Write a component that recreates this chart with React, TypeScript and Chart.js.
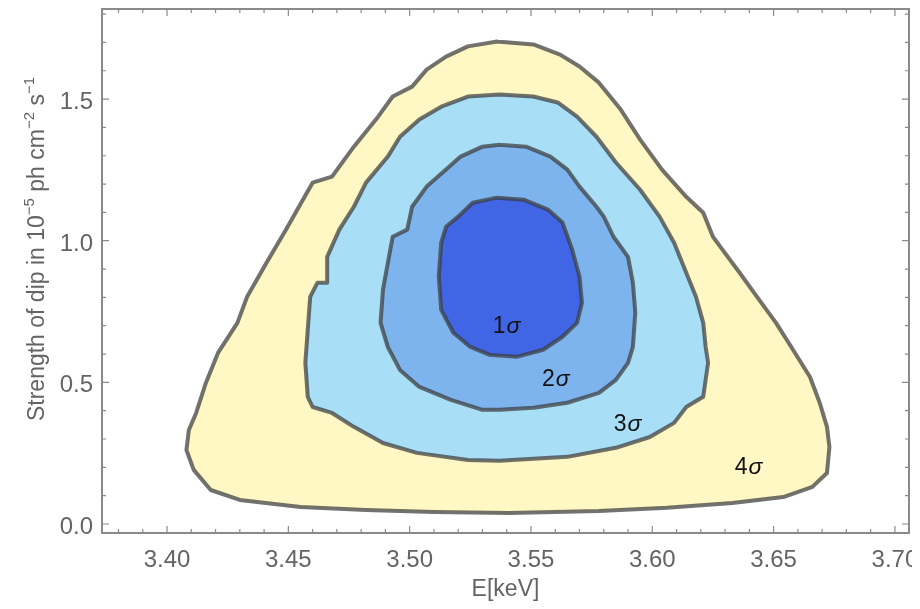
import React, { useEffect, useRef } from "react";
import { Chart, registerables } from "chart.js";
Chart.register(...registerables);

// Axis ticks
const xTicks = [3.4, 3.45, 3.5, 3.55, 3.6, 3.65, 3.7];
const yTicks = [0.0, 0.5, 1.0, 1.5];
const xTitle = "E[keV]";

// 4 sigma contour
const sigma4X = [3.536,3.551,3.562,3.570,3.578,3.587,3.595,3.604,3.614,3.621,3.625,3.628,3.636,3.644,3.651,3.658,3.665,3.669,3.672,3.673,3.672,3.666,3.654,3.633,3.606,3.578,3.541,3.510,3.482,3.455,3.430,3.418,3.411,3.408,3.409,3.412,3.416,3.421,3.429,3.433,3.441,3.449,3.456,3.460,3.468,3.477,3.487,3.493,3.501,3.507,3.515,3.524];
const sigma4Y = [1.703,1.693,1.657,1.615,1.558,1.463,1.357,1.251,1.155,1.099,1.014,0.979,0.887,0.792,0.710,0.615,0.519,0.428,0.343,0.272,0.180,0.131,0.095,0.074,0.057,0.046,0.039,0.042,0.049,0.060,0.085,0.120,0.191,0.261,0.332,0.392,0.498,0.604,0.710,0.802,0.922,1.039,1.145,1.205,1.226,1.332,1.438,1.509,1.544,1.604,1.650,1.686];

// 3 sigma contour
const sigma3X = [3.537,3.551,3.561,3.569,3.577,3.585,3.595,3.603,3.609,3.614,3.618,3.621,3.622,3.623,3.621,3.614,3.609,3.599,3.585,3.565,3.537,3.524,3.503,3.489,3.477,3.468,3.460,3.458,3.457,3.458,3.459,3.462,3.466,3.466,3.471,3.477,3.482,3.491,3.496,3.504,3.513,3.524];
const sigma3Y = [1.516,1.509,1.488,1.438,1.367,1.276,1.180,1.085,0.993,0.887,0.802,0.710,0.625,0.569,0.449,0.413,0.357,0.307,0.269,0.237,0.223,0.226,0.251,0.286,0.343,0.392,0.413,0.449,0.569,0.686,0.802,0.852,0.852,0.943,1.039,1.120,1.205,1.297,1.367,1.428,1.473,1.509];

// 2 sigma contour
const sigma2X = [3.537,3.548,3.558,3.565,3.570,3.577,3.580,3.584,3.590,3.592,3.593,3.592,3.590,3.585,3.578,3.565,3.551,3.537,3.530,3.517,3.504,3.496,3.491,3.488,3.489,3.491,3.493,3.499,3.501,3.507,3.515,3.521,3.530];
const sigma2Y = [1.339,1.332,1.297,1.251,1.191,1.120,1.085,1.014,0.943,0.852,0.746,0.625,0.569,0.509,0.463,0.428,0.410,0.403,0.403,0.438,0.484,0.544,0.625,0.710,0.827,0.922,1.014,1.039,1.120,1.191,1.251,1.297,1.332];

// 1 sigma contour
const sigma1X = [3.536,3.547,3.557,3.563,3.567,3.570,3.571,3.569,3.563,3.555,3.544,3.533,3.525,3.518,3.513,3.512,3.513,3.515,3.520,3.526];
const sigma1Y = [1.152,1.145,1.110,1.064,0.968,0.873,0.781,0.710,0.661,0.615,0.590,0.597,0.625,0.675,0.756,0.873,0.993,1.049,1.085,1.134];

// Contour labels
const contourLabels = ["1σ", "2σ", "3σ", "4σ"];
const labelX = [3.5397, 3.560, 3.5896, 3.6395];
const labelY = [0.696, 0.509, 0.350, 0.198];

const fillColors = ["#4066e6", "#7db4ee", "#a8def6", "#fff7c4"];
const tickGray = "#646464";
const fontFam = '"Liberation Sans", Arial, sans-serif';

function closed(xs: number[], ys: number[]) {
  const pts = xs.map((x, i) => ({ x, y: ys[i] }));
  pts.push({ x: xs[0], y: ys[0] });
  return pts;
}

const decorPlugin = {
  id: "decor",
  afterDraw(chart: any) {
    const { ctx, chartArea: a, scales } = chart;
    const xs = scales.x;
    const ys = scales.y;
    ctx.save();

    // contour labels
    ctx.fillStyle = "#111";
    ctx.textBaseline = "middle";
    ctx.textAlign = "left";
    contourLabels.forEach((lab, i) => {
      const num = lab.slice(0, -1);
      const sig = lab.slice(-1);
      const px = xs.getPixelForValue(labelX[i]);
      const py = ys.getPixelForValue(labelY[i]);
      ctx.font = `23px ${fontFam}`;
      const w1 = ctx.measureText(num).width;
      ctx.font = `italic 23px ${fontFam}`;
      const w2 = ctx.measureText(sig).width;
      const sx = px - (w1 + w2) / 2;
      ctx.font = `23px ${fontFam}`;
      ctx.fillText(num, sx, py);
      ctx.font = `italic 23px ${fontFam}`;
      ctx.fillText(sig, sx + w1 + 1, py);
    });

    // frame
    ctx.strokeStyle = "#8a8a8a";
    ctx.lineWidth = 2;
    ctx.strokeRect(a.left, a.top, a.right - a.left, a.bottom - a.top);

    // inner ticks
    ctx.lineWidth = 1.2;
    ctx.beginPath();
    for (let k = Math.ceil(xs.min / 0.01); k <= Math.floor(xs.max / 0.01); k++) {
      const px = xs.getPixelForValue(k * 0.01);
      const len = k % 5 === 0 ? 7 : 4;
      ctx.moveTo(px, a.bottom);
      ctx.lineTo(px, a.bottom - len);
      ctx.moveTo(px, a.top);
      ctx.lineTo(px, a.top + len);
    }
    for (let k = Math.ceil(ys.min / 0.1); k <= Math.floor(ys.max / 0.1); k++) {
      const py = ys.getPixelForValue(k * 0.1);
      const len = k % 5 === 0 ? 7 : 4;
      ctx.moveTo(a.left, py);
      ctx.lineTo(a.left + len, py);
      ctx.moveTo(a.right, py);
      ctx.lineTo(a.right - len, py);
    }
    ctx.stroke();

    // tick labels
    ctx.fillStyle = tickGray;
    ctx.font = `24px ${fontFam}`;
    ctx.textBaseline = "alphabetic";
    ctx.textAlign = "center";
    xTicks.forEach((v) => {
      ctx.fillText(v.toFixed(2), xs.getPixelForValue(v), a.bottom + 34);
    });
    ctx.textAlign = "right";
    yTicks.forEach((v) => {
      ctx.fillText(v.toFixed(1), a.left - 9, ys.getPixelForValue(v) + 10);
    });

    // x title
    ctx.font = `23px ${fontFam}`;
    ctx.textAlign = "center";
    ctx.textBaseline = "middle";
    ctx.fillText(xTitle, (a.left + a.right) / 2, a.bottom + 57);

    // y axis title with superscripts
    const parts: [string, boolean][] = [
      ["Strength of dip in 10", false],
      ["−5", true],
      [" ph cm", false],
      ["−2", true],
      [" s", false],
      ["−1", true],
    ];
    const mainFont = `23px ${fontFam}`;
    const supFont = `15px ${fontFam}`;
    let total = 0;
    parts.forEach(([t, sup]) => {
      ctx.font = sup ? supFont : mainFont;
      total += ctx.measureText(t).width;
    });
    const cx = a.left - 58;
    const cy = (a.top + a.bottom) / 2 - 22;
    ctx.translate(cx, cy);
    ctx.rotate(-Math.PI / 2);
    ctx.textAlign = "left";
    ctx.textBaseline = "alphabetic";
    let x0 = -total / 2;
    parts.forEach(([t, sup]) => {
      ctx.font = sup ? supFont : mainFont;
      ctx.fillText(t, x0, sup ? -10 : 0);
      x0 += ctx.measureText(t).width;
    });
    ctx.restore();
  },
};

export default function App() {
  const ref = useRef<HTMLCanvasElement | null>(null);
  useEffect(() => {
    if (!ref.current) return;
    const sets = [
      { label: "1σ", xs: sigma1X, ys: sigma1Y },
      { label: "2σ", xs: sigma2X, ys: sigma2Y },
      { label: "3σ", xs: sigma3X, ys: sigma3Y },
      { label: "4σ", xs: sigma4X, ys: sigma4Y },
    ];
    const chart = new Chart(ref.current, {
      type: "scatter",
      data: {
        datasets: sets.map((s, i) => ({
          label: s.label,
          data: closed(s.xs, s.ys),
          showLine: true,
          fill: "shape",
          backgroundColor: fillColors[i],
          borderColor: "rgba(60,60,60,0.72)",
          borderWidth: 4,
          borderJoinStyle: "round",
          borderCapStyle: "round",
          pointRadius: 0,
          tension: 0,
          order: i,
        })),
      } as any,
      options: {
        animation: false,
        responsive: false,
        layout: { padding: { top: 9, right: 11, left: 102, bottom: 76 } },
        plugins: { legend: { display: false }, tooltip: { enabled: false } },
        scales: {
          x: { type: "linear", display: false, min: 3.3732, max: 3.7058 },
          y: { type: "linear", display: false, min: -0.0318, max: 1.818 },
        },
      } as any,
      plugins: [decorPlugin],
    });
    return () => chart.destroy();
  }, []);
  return (
    <div style={{ width: 904, height: 593, position: "relative" }}>
      <canvas
        ref={ref}
        width={920}
        height={609}
        style={{ display: "block", position: "absolute", left: -8, top: -8 }}
      />
    </div>
  );
}
